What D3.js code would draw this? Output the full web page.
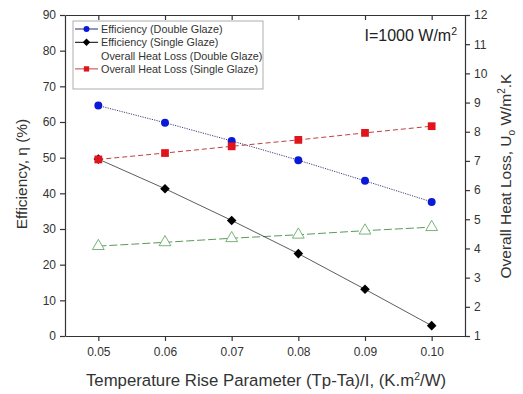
<!DOCTYPE html>
<html>
<head>
<meta charset="utf-8">
<title>Efficiency and heat loss</title>
<script src="https://d3js.org/d3.v7.min.js"></script>
<style>
  body { margin: 0; background: #fff; }
  text { font-family: Arial, "Liberation Sans", sans-serif; }
</style>
</head>
<body>
<svg width="523" height="394"></svg>
<script>
// data
var xValues = [0.05, 0.06, 0.07, 0.08, 0.09, 0.10];
var effDouble = [64.6, 59.8, 54.7, 49.3, 43.5, 37.6];
var effSingle = [49.6, 41.3, 32.4, 23.1, 13.1, 2.9];
var lossDouble = [4.08, 4.21, 4.35, 4.47, 4.61, 4.73];
var lossSingle = [7.05, 7.27, 7.50, 7.72, 7.96, 8.19];
var xTicks = [0.05, 0.06, 0.07, 0.08, 0.09, 0.10];
var leftTicks = [0, 10, 20, 30, 40, 50, 60, 70, 80, 90];
var rightTicks = [1, 2, 3, 4, 5, 6, 7, 8, 9, 10, 11, 12];
var legendNames = ["Efficiency (Double Glaze)", "Efficiency (Single Glaze)",
                   "Overall Heat Loss (Double Glaze)", "Overall Heat Loss (Single Glaze)"];

var svg = d3.select("svg");
var pLeft = 65, pRight = 465, pTop = 15, pBottom = 336;

var x = d3.scaleLinear().domain([0.045, 0.105]).range([pLeft, pRight]);
var yL = d3.scaleLinear().domain([0, 90]).range([pBottom, pTop]);
var yR = d3.scaleLinear().domain([1, 12]).range([pBottom, pTop]);

function styleAxis(g) {
  g.selectAll("path, line").attr("stroke", "#333").attr("stroke-width", 1.2);
  g.selectAll("text").attr("fill", "#333").attr("font-size", "12px");
}

// frame axes
svg.append("g").attr("transform", "translate(0," + pBottom + ")")
  .call(d3.axisBottom(x).tickValues(xTicks).tickFormat(d3.format(".2f")).tickSize(5).tickSizeOuter(0).tickPadding(6))
  .call(styleAxis);
svg.append("g").attr("transform", "translate(0," + pTop + ")")
  .call(d3.axisBottom(x).tickValues(xTicks).tickFormat("").tickSize(5).tickSizeOuter(0))
  .call(styleAxis);
svg.append("g").attr("transform", "translate(" + pLeft + ",0)")
  .call(d3.axisLeft(yL).tickValues(leftTicks).tickSize(5).tickSizeOuter(0).tickPadding(4))
  .call(styleAxis);
svg.append("g").attr("transform", "translate(" + pRight + ",0)")
  .call(d3.axisRight(yR).tickValues(rightTicks).tickSize(5).tickSizeOuter(0).tickPadding(4))
  .call(styleAxis);

// series
var series = [
  {vals: lossDouble, y: yR, color: "#5a9a5a", dash: "8,3", shape: "tri", width: 1},
  {vals: effDouble, y: yL, color: "#2a2a6a", dash: "1.2,1.2", shape: "circle", width: 0.9, fill: "#0a1ad6"},
  {vals: effSingle, y: yL, color: "#333", dash: null, shape: "diamond", width: 0.8, fill: "#000"},
  {vals: lossSingle, y: yR, color: "#c04040", dash: "5,3", shape: "square", width: 1, fill: "#e0141a"}
];

var symbols = {
  circle: d3.symbol().type(d3.symbolCircle).size(50),
  diamond: d3.symbol().type(d3.symbolSquare).size(46),
  square: d3.symbol().type(d3.symbolSquare).size(60),
  tri: d3.symbol().type(d3.symbolTriangle).size(60)
};

series.forEach(function(s) {
  var line = d3.line()
    .x(function(d, i) { return x(xValues[i]); })
    .y(function(d) { return s.y(d); });
  svg.append("path")
    .datum(s.vals)
    .attr("d", line)
    .attr("fill", "none")
    .attr("stroke", s.color)
    .attr("stroke-width", s.width)
    .attr("stroke-dasharray", s.dash);
  svg.selectAll(null)
    .data(s.vals)
    .enter().append("path")
    .attr("d", symbols[s.shape])
    .attr("transform", function(d, i) {
      return "translate(" + x(xValues[i]) + "," + s.y(d) + ")" + (s.shape == "diamond" ? " rotate(45)" : "");
    })
    .attr("fill", s.shape == "tri" ? "#fff" : s.fill)
    .attr("stroke", s.shape == "tri" ? "#6aaa6a" : "none")
    .attr("stroke-width", 0.9);
});

// legend
var lg = svg.append("g");
lg.append("rect").attr("x", 73).attr("y", 21).attr("width", 190).attr("height", 68)
  .attr("fill", "#fff").attr("stroke", "#999").attr("stroke-width", 0.8);
var legendItems = [
  {name: legendNames[0], color: "#2a2a6a", shape: "circle", fill: "#0a1ad6"},
  {name: legendNames[1], color: "#000", shape: "diamond", fill: "#000"},
  {name: legendNames[2], color: null},
  {name: legendNames[3], color: "#c04040", shape: "square", fill: "#e0141a"}
];
legendItems.forEach(function(d, i) {
  var yy = 29 + i * 13.3;
  if (d.color) {
    lg.append("line").attr("x1", 75).attr("x2", 98).attr("y1", yy).attr("y2", yy)
      .attr("stroke", d.color).attr("stroke-width", 1);
    lg.append("path").attr("d", d3.symbol().type(d.shape == "circle" ? d3.symbolCircle : d3.symbolSquare).size(28))
      .attr("transform", "translate(86.5," + yy + ")" + (d.shape == "diamond" ? " rotate(45)" : ""))
      .attr("fill", d.fill);
  }
  lg.append("text").attr("x", 101).attr("y", yy + 4).attr("font-size", "10.8px")
    .attr("fill", "#333").text(d.name);
});

// annotation
var ann = svg.append("text").attr("x", 457).attr("y", 41).attr("text-anchor", "end")
  .attr("font-size", "16px").attr("fill", "#222");
ann.append("tspan").text("I=1000 W/m");
ann.append("tspan").attr("dy", -6).attr("font-size", "10.5px").text("2");

// axis titles
svg.append("text").attr("transform", "translate(27,174) rotate(-90)").attr("text-anchor", "middle")
  .attr("font-size", "15.5px").attr("fill", "#333").text("Efficiency, \u03b7 (%)");

var rt = svg.append("text").attr("transform", "translate(511,176) rotate(-90)").attr("text-anchor", "middle")
  .attr("font-size", "15.5px").attr("fill", "#333");
rt.append("tspan").text("Overall Heat Loss, U");
rt.append("tspan").attr("dy", 4).attr("font-size", "10px").text("o");
rt.append("tspan").attr("dy", -4).text(" W/m");
rt.append("tspan").attr("dy", -6).attr("font-size", "10px").text("2");
rt.append("tspan").attr("dy", 6).text(".K");

var xt = svg.append("text").attr("x", 266).attr("y", 386).attr("text-anchor", "middle")
  .attr("font-size", "16.8px").attr("fill", "#333");
xt.append("tspan").text("Temperature Rise Parameter (Tp-Ta)/I, (K.m");
xt.append("tspan").attr("dy", -6).attr("font-size", "10.5px").text("2");
xt.append("tspan").attr("dy", 6).text("/W)");
</script>
</body>
</html>
